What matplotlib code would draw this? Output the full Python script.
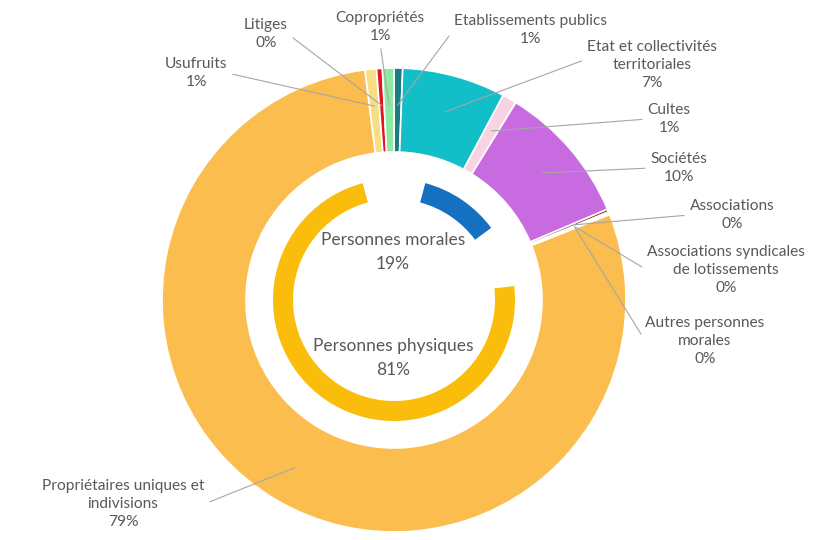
import matplotlib
matplotlib.use("Agg")
import matplotlib.pyplot as plt
import numpy as np

plt.rcParams['font.family'] = ['Lato', 'DejaVu Sans']

# ---- data ----
outer_labels = ["Etablissements publics", "Etat et collectivités\nterritoriales", "Cultes",
                "Sociétés", "Associations", "Associations syndicales\nde lotissements",
                "Autres personnes\nmorales", "Propriétaires uniques et\nindivisions",
                "Usufruits", "Litiges", "Copropriétés"]
outer_values = [0.6, 7.2, 1.0, 9.8, 0.2, 0.1, 0.1, 79.0, 0.8, 0.4, 0.8]
outer_colors = ["#1b7c82", "#12bfc8", "#f7d3e4", "#c86ae0", "#7a3e1a", "#c9a26b",
                "#e7cfa0", "#fbbd4e", "#f8df85", "#e3141c", "#8eeaa3"]

inner_labels = ["Personnes morales", "Personnes physiques"]
inner_values = [19, 81]
inner_colors = ["#1570c2", "#fbbd0b"]

W, H = 821, 540
fig = plt.figure(figsize=(W / 100, H / 100), dpi=100)
ax = fig.add_axes([0, 0, 1, 1])

cx, cy = 394, H - 300
R_out, R_out_in = 232, 148
R_in, R_in_in = 121, 101

wedges, _ = ax.pie(outer_values, colors=outer_colors, startangle=90, counterclock=False,
                   radius=R_out, center=(cx, cy),
                   wedgeprops=dict(width=R_out - R_out_in, edgecolor="white", linewidth=1.2))

iw, _ = ax.pie(inner_values, colors=inner_colors, startangle=90, counterclock=False,
               radius=R_in, center=(cx, cy),
               wedgeprops=dict(width=R_in - R_in_in, edgecolor="none"))
gap = 15
for w in iw:
    w.set_theta1(w.theta1 + gap)
    w.set_theta2(w.theta2 - gap)

text_color = "#595959"
line_color = "#a6a6a6"
fs = 11.2

# label centres (pixel coords) and attach side
label_pos = {
    "Etablissements publics": ((530, 30), (0, 0.5)),
    "Etat et collectivités\nterritoriales": ((652, 65), (0, 0.62)),
    "Cultes": ((669, 119), (0, 0.5)),
    "Sociétés": ((679, 168), (0, 0.5)),
    "Associations": ((732, 215), (0, 0.5)),
    "Associations syndicales\nde lotissements": ((726, 270), (0, 0.5)),
    "Autres personnes\nmorales": ((705, 341), (0, 0.5)),
    "Propriétaires uniques et\nindivisions": ((123, 504), (1, 0.5)),
    "Usufruits": ((196, 73), (1, 0.5)),
    "Litiges": ((266, 34), (1, 0.5)),
    "Copropriétés": ((380, 27), (0.5, 0.0)),
}

for w, lab, v in zip(wedges, outer_labels, outer_values):
    mid = np.deg2rad((w.theta1 + w.theta2) / 2)
    r = 0.84 * R_out
    ax_pt = (cx + r * np.cos(mid), cy + r * np.sin(mid))
    (px, py), rel = label_pos[lab]
    ax.annotate(f"{lab}\n{round(v)}%", xy=ax_pt, xytext=(px, H - py),
                ha="center", va="center", fontsize=fs, color=text_color,
                linespacing=1.4,
                arrowprops=dict(arrowstyle="-", color=line_color, lw=0.8,
                                shrinkA=2, shrinkB=0, relpos=rel))

inner_pos = [(393, 252), (393, 358)]
for lab, v, (px, py) in zip(inner_labels, inner_values, inner_pos):
    ax.text(px, H - py, f"{lab}\n{v}%", ha="center", va="center", fontsize=12.5,
            color=text_color, linespacing=1.6)

ax.set_xlim(0, W)
ax.set_ylim(0, H)
ax.set_aspect("equal")
ax.axis("off")
fig.savefig("out.png", dpi=100, facecolor="white")
